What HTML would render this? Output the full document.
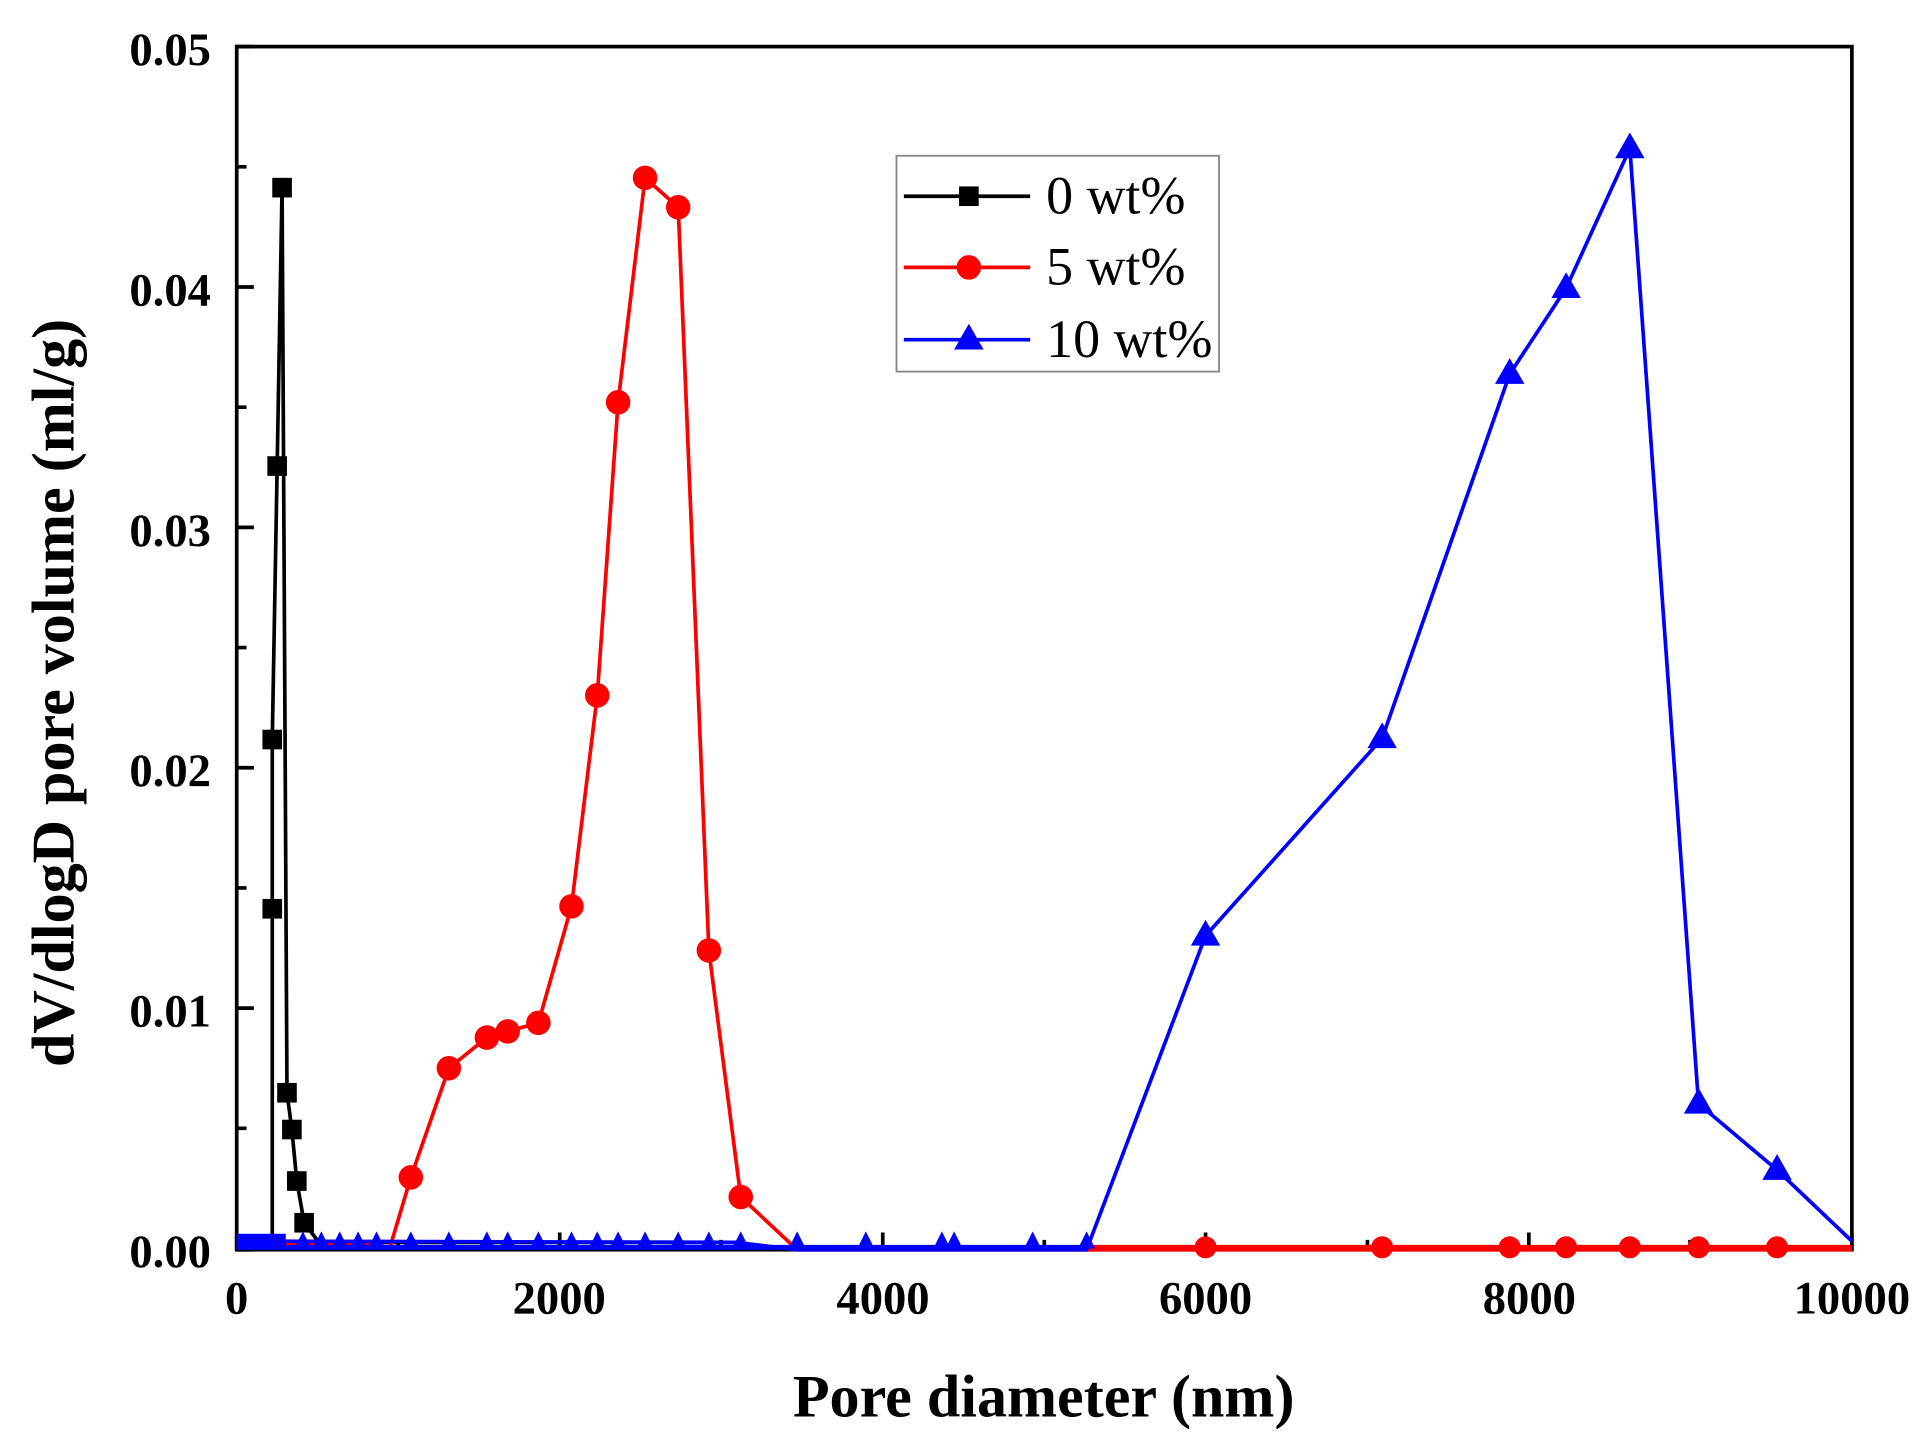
<!DOCTYPE html>
<html><head><meta charset="utf-8"><style>body{margin:0;background:#fff}svg{display:block}</style></head><body>
<svg width="1923" height="1437" viewBox="0 0 1568 1171.7" preserveAspectRatio="none" xmlns="http://www.w3.org/2000/svg" font-family="Liberation Serif, serif" font-weight="bold">
<rect width="1568" height="1172" fill="#fff"/>
<g stroke="#000" stroke-width="3">
<rect x="193" y="38" width="1317" height="981" fill="none"/>
<path d="M193 38h14M193 136h8M193 234h14M193 332h8M193 430h14M193 528h8M193 626h14M193 724h8M193 822h14M193 920h8M193 1019h14"/>
<path d="M193 1019v-14M324.7 1019v-8M456.4 1019v-14M588 1019v-8M719.8 1019v-14M851.5 1019v-8M983 1019v-14M1115 1019v-8M1246.6 1019v-14M1378 1019v-8M1510 1019v-14"/>
</g>
<g font-size="38" text-anchor="end">
<text x="172" y="53">0.05</text><text x="172" y="249">0.04</text><text x="172" y="445">0.03</text><text x="172" y="641">0.02</text><text x="172" y="837">0.01</text><text x="172" y="1033">0.00</text>
</g>
<g font-size="38" text-anchor="middle">
<text x="193" y="1071">0</text><text x="456" y="1071">2000</text><text x="720" y="1071">4000</text><text x="983" y="1071">6000</text><text x="1247" y="1071">8000</text><text x="1510" y="1071">10000</text>
</g>
<text x="851" y="1155" font-size="49" text-anchor="middle">Pore diameter (nm)</text>
<text transform="translate(60,565) rotate(-90)" font-size="49" text-anchor="middle">dV/dlogD pore volume (ml/g)</text>
<!-- black -->
<polyline fill="none" stroke="#000" stroke-width="3" points="193,1013 215,1013 222,1013 222,741 222,603 226,380 230,153 234,891 238,921 242,963 248,997 260,1013 600,1013"/>
<g fill="#000">
<rect x="222" y="145" width="16" height="16"/><rect x="218" y="372" width="16" height="16"/><rect x="214" y="595" width="16" height="16"/><rect x="214" y="733" width="16" height="16"/><rect x="226" y="883" width="16" height="16"/><rect x="230" y="913" width="16" height="16"/><rect x="234" y="955" width="16" height="16"/><rect x="240" y="989" width="16" height="16"/>
</g>
<!-- red -->
<polyline fill="none" stroke="#f00" stroke-width="3" points="193,1015 300,1015 318,1017 335,960 366,871 397,846 414,841 439,834 466,739 487,567 504,328 526,145 553,169 578,775 604,976 650,1019 1510,1019"/>
<line x1="886" y1="1017" x2="1510" y2="1017" stroke="#f00" stroke-width="4"/>
<g fill="#f00">
<circle cx="335" cy="960" r="10"/><circle cx="366" cy="871" r="10"/><circle cx="397" cy="846" r="10"/><circle cx="414" cy="841" r="10"/><circle cx="439" cy="834" r="10"/><circle cx="466" cy="739" r="10"/><circle cx="487" cy="567" r="10"/><circle cx="504" cy="328" r="10"/><circle cx="526" cy="145" r="10"/><circle cx="553" cy="169" r="10"/><circle cx="578" cy="775" r="10"/><circle cx="604" cy="976" r="10"/>
<circle cx="983" cy="1017" r="9"/><circle cx="1127" cy="1017" r="9"/><circle cx="1231" cy="1017" r="9"/><circle cx="1277" cy="1017" r="9"/><circle cx="1329" cy="1017" r="9"/><circle cx="1385" cy="1017" r="9"/><circle cx="1449" cy="1017" r="9"/>
</g>
<!-- blue -->
<polyline fill="none" stroke="#00f" stroke-width="3" points="193,1012 600,1013 650,1019 886,1019 983,763 1127,602 1231,305 1277,235 1329,121 1385,900 1449,954 1510,1012"/>
<line x1="193" y1="1017" x2="886" y2="1017" stroke="#00f" stroke-width="4"/>
<rect x="193" y="1006" width="40" height="12" fill="#00f"/>
<g fill="#00f">
<path d="M240 1018l7-14 7 14zM255 1018l7-14 7 14zM270 1018l7-14 7 14zM285 1018l7-14 7 14zM300 1018l7-14 7 14zM328 1018l7-14 7 14zM359 1018l7-14 7 14zM390 1018l7-14 7 14zM407 1018l7-14 7 14zM432 1018l7-14 7 14zM459 1018l7-14 7 14zM480 1018l7-14 7 14zM497 1018l7-14 7 14zM519 1018l7-14 7 14zM546 1018l7-14 7 14zM571 1018l7-14 7 14zM597 1018l7-14 7 14zM643 1018l7-14 7 14zM699 1018l7-14 7 14zM761 1018l7-14 7 14zM771 1018l7-14 7 14zM835 1018l7-14 7 14zM879 1018l7-14 7 14z"/>
<path d="M983 750l12 21h-24zM1127 589l12 21h-24zM1231 292l12 21h-24zM1277 222l12 21h-24zM1329 108l12 21h-24zM1385 887l12 21h-24zM1449 941l12 21h-24z"/>
</g>
<!-- legend -->
<rect x="731" y="127" width="263" height="176" fill="#fff" stroke="#888" stroke-width="1.5"/>
<line x1="737" y1="160" x2="840" y2="160" stroke="#000" stroke-width="3"/><rect x="782" y="152" width="16" height="16" fill="#000"/>
<line x1="737" y1="218" x2="840" y2="218" stroke="#f00" stroke-width="3"/><circle cx="790" cy="218" r="10" fill="#f00"/>
<line x1="737" y1="277" x2="840" y2="277" stroke="#00f" stroke-width="3"/><path d="M790 264l12 21h-24z" fill="#00f"/>
<g font-size="44" font-weight="normal">
<text x="853" y="174">0 wt%</text><text x="853" y="232">5 wt%</text><text x="853" y="291">10 wt%</text>
</g>
</svg>
</body></html>
